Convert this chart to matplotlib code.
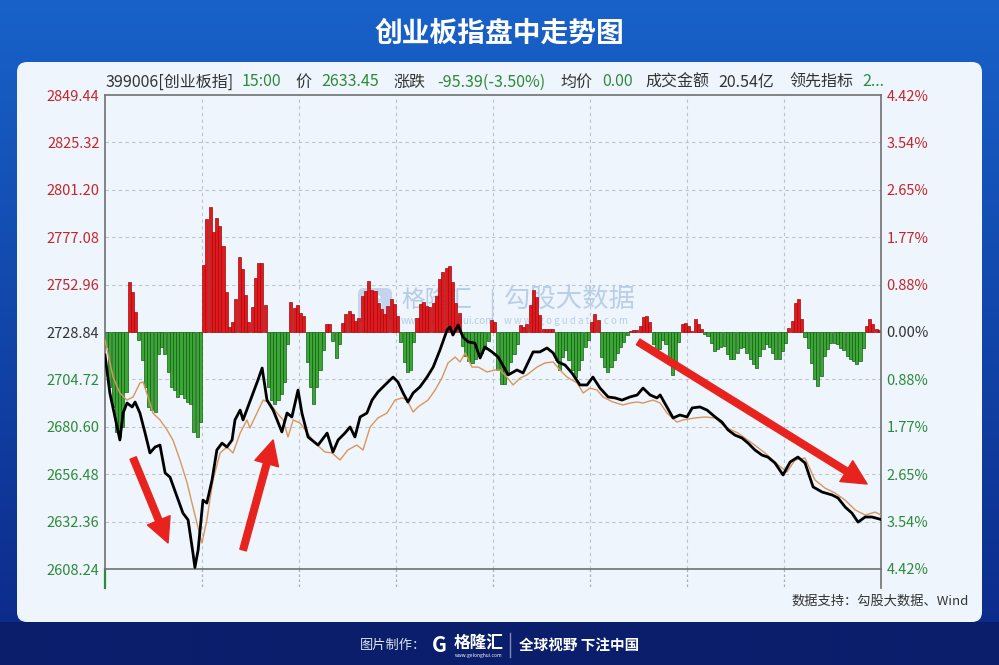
import numpy as np
import matplotlib
matplotlib.use('Agg')
import matplotlib.pyplot as plt
from matplotlib.patches import FancyBboxPatch

plt.rcParams['font.family'] = ['Noto Sans CJK SC', 'DejaVu Sans']

# ---------------- data ----------------
title = "创业板指盘中走势图"
base_price = 2728.84
price_ticks = [2849.44, 2825.32, 2801.20, 2777.08, 2752.96, 2728.84,
               2704.72, 2680.60, 2656.48, 2632.36, 2608.24]
pct_labels = ['4.42%', '3.54%', '2.65%', '1.77%', '0.88%', '0.00%',
              '0.88%', '1.77%', '2.65%', '3.54%', '4.42%']
time_ticks = [0, 30, 60, 90, 120, 150, 180, 210, 240]

price_minutes = [0, 1.5, 3.1, 4.6, 5.6, 6.8, 8.4, 9.3, 10.8, 12.4, 13.9, 15.5, 17.0, 18.6, 20.1,
                 22.3, 24.1, 25.7, 27.2, 27.8, 28.8, 30.3, 31.5, 33.1, 34.6, 36.2, 37.7, 39.3,
                 40.2, 41.8, 42.7, 44.2, 45.8, 47.3, 48.6, 49.5, 50.1, 52.0, 54.7, 56.3, 57.8,
                 59.7, 60.9, 62.8, 65.9, 68.7, 70.5, 72.1, 74.2, 75.8, 77.3, 78.9, 81.0, 82.6,
                 84.4, 86.6, 89.1, 90.6, 92.2, 93.7, 95.3, 97.4, 99.6, 101.5, 103.6, 105.8,
                 106.7, 107.6, 109.2, 110.7, 112.3, 114.4, 116.0, 117.5, 119.7, 121.6, 124.7,
                 127.4, 129.3, 132.4, 134.5, 136.7, 138.6, 140.1, 142.3, 144.4, 146.9, 149.1,
                 150.9, 153.1, 155.6, 157.7, 159.9, 162.4, 164.6, 166.4, 168.6, 170.7, 171.7,
                 173.8, 175.7, 177.8, 180.0, 181.6, 184.0, 186.2, 188.7, 190.8, 192.7, 194.8,
                 197.0, 198.9, 201.0, 203.2, 205.0, 207.2, 209.7, 211.9, 214.3, 216.5, 219.0,
                 221.8, 224.9, 226.7, 228.9, 231.0, 232.9, 235.1, 237.2, 240.0]
price_values = [2717.1, 2697.8, 2685.6, 2673.9, 2687.6, 2692.7, 2690.7, 2693.2, 2687.6, 2677.4,
                2667.3, 2670.3, 2671.3, 2657.1, 2655.0, 2644.9, 2636.7, 2633.2, 2616.4, 2609.0,
                2617.9, 2643.3, 2641.8, 2653.5, 2668.8, 2672.3, 2670.3, 2673.9, 2684.1, 2689.1,
                2684.1, 2690.7, 2697.8, 2704.4, 2710.5, 2700.9, 2694.2, 2689.1, 2678.0, 2687.6,
                2685.6, 2699.3, 2687.6, 2675.4, 2671.3, 2677.4, 2667.8, 2673.9, 2677.4, 2680.5,
                2675.4, 2685.6, 2687.6, 2694.2, 2698.3, 2701.9, 2705.9, 2703.4, 2697.8, 2693.2,
                2697.8, 2700.9, 2705.9, 2711.0, 2719.7, 2729.9, 2731.4, 2727.3, 2732.4, 2726.3,
                2723.8, 2723.2, 2715.6, 2721.2, 2718.7, 2716.1, 2707.0, 2709.5, 2708.0, 2718.7,
                2718.7, 2720.7, 2718.2, 2713.6, 2712.0, 2708.0, 2701.9, 2701.9, 2705.9, 2700.3,
                2695.8, 2695.3, 2694.2, 2695.8, 2696.8, 2700.3, 2696.8, 2695.3, 2696.8, 2690.7,
                2685.1, 2686.6, 2685.6, 2690.2, 2690.7, 2689.1, 2685.6, 2683.0, 2679.0, 2676.4,
                2674.9, 2672.3, 2668.8, 2666.2, 2665.2, 2662.2, 2656.1, 2662.7, 2665.2, 2662.2,
                2650.0, 2647.4, 2645.9, 2644.4, 2639.8, 2636.7, 2632.1, 2634.7, 2634.7, 2633.45]

avg_minutes = [0, 2.5, 4.6, 6.8, 8.7, 10.8, 11.8, 13.3, 14.8, 17.0, 19.2, 21.0, 23.2, 25.4, 27.2,
               28.8, 30.0, 31.5, 33.4, 35.6, 37.7, 39.6, 41.8, 43.9, 44.8, 47.0, 48.9, 51.0, 53.2,
               55.1, 56.6, 58.2, 60.3, 61.9, 65.0, 68.0, 70.2, 72.7, 75.1, 77.9, 79.8, 82.0, 84.4,
               87.2, 89.7, 91.9, 93.4, 95.3, 96.8, 99.9, 102.1, 104.2, 106.1, 108.3, 109.8, 111.4,
               113.5, 115.4, 118.2, 120.6, 122.2, 124.3, 126.2, 128.4, 130.5, 133.6, 136.1, 138.6,
               140.7, 142.9, 146.0, 147.9, 150.0, 152.2, 154.0, 157.1, 160.2, 162.4, 164.6, 166.4,
               169.5, 171.7, 173.8, 176.9, 178.8, 182.5, 185.6, 188.7, 191.8, 195.8, 200.1, 204.1,
               208.2, 210.9, 213.4, 216.5, 219.6, 222.7, 225.8, 228.9, 232.0, 235.1, 238.2, 240.0]
avg_values = [2724.8, 2705.9, 2697.8, 2694.2, 2695.8, 2702.9, 2703.4, 2695.8, 2687.6, 2684.1,
              2679.0, 2673.9, 2663.7, 2652.0, 2639.8, 2629.1, 2621.5, 2633.2, 2653.5, 2667.3,
              2670.3, 2667.3, 2677.4, 2684.1, 2680.0, 2687.6, 2694.2, 2692.7, 2687.6, 2684.1,
              2675.4, 2684.1, 2682.5, 2679.0, 2672.3, 2667.8, 2667.3, 2663.7, 2668.8, 2671.3,
              2668.8, 2680.5, 2685.1, 2687.6, 2694.2, 2695.3, 2694.2, 2688.1, 2690.7, 2694.2,
              2699.3, 2705.4, 2713.1, 2716.1, 2713.6, 2718.2, 2711.0, 2711.0, 2708.5, 2709.5,
              2709.5, 2705.9, 2701.9, 2705.4, 2707.0, 2711.0, 2713.1, 2713.6, 2709.5, 2705.9,
              2702.9, 2697.8, 2700.3, 2699.3, 2695.8, 2693.2, 2691.7, 2692.7, 2693.2, 2692.7,
              2694.2, 2692.7, 2687.6, 2683.0, 2684.1, 2685.1, 2685.6, 2685.1, 2680.5, 2677.4,
              2672.3, 2667.3, 2661.2, 2657.6, 2663.7, 2664.7, 2653.5, 2649.4, 2646.9, 2643.3,
              2638.3, 2635.7, 2637.2, 2635.7]

# leading indicator, one value per minute (own units)
indicator = [-15, -55, -75, -100, -105, -95, -60, 50, 40, 20,
             -8, -28, -55, -75, -78, -80, -22, -15, -22, -40,
             -55, -58, -65, -62, -66, -70, -72, -100, -105, -90,
             67, 113, 125, 100, 114, 106, 86, 40, 5, 10,
             33, 75, 63, 37, 10, 25, 54, 69, 69, 27,
             -55, -68, -72, -68, -62, -50, -12, 30, 24, 27,
             19, 16, -30, -55, -72, -55, -38, -18, 8, 8,
             -9, -26, -12, 9, 18, 21, 18, 11, 14, 36,
             41, 51, 42, 41, 29, 23, 18, 26, 33, 28,
             16, -10, -30, -40, -38, -10, 14, 28, 30, 26,
             25, 29, 36, 53, 60, 64, 66, 50, 29, 19,
             -14, -24, -29, -31, -27, -21, -21, -17, -9, 12,
             10, -38, -52, -52, -40, -30, -22, -12, 7, 5,
             8, 27, 42, 35, 17, 3, 3, 3, 3, -28,
             -38, -25, -18, -28, -38, -45, -38, -28, -15, -8,
             10, 18, 12, -25, -35, -40, -35, -28, -21, -15,
             -10, -3, 1, 2, 2, 6, 15, 16, 10, -12,
             -23, -17, -8, -12, -25, -43, -35, -10, 8, 9,
             6, 1, 13, 8, 3, -2, -4, -11, -19, -17,
             -15, -14, -22, -27, -27, -21, -16, -15, -21, -27,
             -32, -36, -24, -17, -12, -15, -21, -27, -27, -19,
             -11, 4, 11, 29, 33, 13, -5, -16, -31, -47,
             -54, -44, -24, -17, -11, -11, -12, -16, -18, -24,
             -27, -29, -32, -29, -16, 6, 13, 8, 3, 2]

header_texts = ["399006[创业板指]", "15:00", "价", "2633.45", "涨跌", "-95.39(-3.50%)",
                "均价", "0.00", "成交金额", "20.54亿", "领先指标", "2..."]
header_is_value = [False, True, False, True, False, True, False, True, False, False, False, True]
source_text = "数据支持：勾股大数据、Wind"

# ---------------- styles / layout ----------------
W, H = 999, 665
RED_T = '#C4262B'
GREEN_T = '#2E8A3A'
DARK_T = '#333333'
IND_SCALE = 0.509          # price points per indicator unit (display scale)
header_x = [105, 242, 295, 321, 393, 437, 560, 602, 645, 718, 789, 862]


def fx(px):
    return px / W


def fy(py):
    return 1 - py / H


fig = plt.figure(figsize=(W / 100, H / 100), dpi=100)

# background
bg = fig.add_axes([0, 0, 1, 1])
bg.set_xlim(0, W)
bg.set_ylim(H, 0)
bg.axis('off')
top = np.array([0x18, 0x62, 0xC9]) / 255
bot = np.array([0x0C, 0x2C, 0x8C]) / 255
foot = np.array([0x0A, 0x1E, 0x6C]) / 255
rows = np.zeros((H, 1, 3))
for r in range(H):
    if r < 622:
        t = r / 622
        rows[r, 0] = top * (1 - t) + bot * t
    else:
        rows[r, 0] = foot
img = np.repeat(rows, 4, axis=1)
bg.imshow(img, extent=(0, W, H, 0), aspect='auto', zorder=0, interpolation='bilinear')
panel = FancyBboxPatch((17, 62), 965, 560, boxstyle='round,pad=0,rounding_size=10',
                       fc='#EEF5FC', ec='none', zorder=1)
bg.add_patch(panel)

# title
fig.text(0.5, fy(34), title, color='white', fontsize=20, fontweight='bold',
         ha='center', va='center')

# header line
for txt, isval, x in zip(header_texts, header_is_value, header_x):
    fig.text(fx(x), fy(82), txt, color=GREEN_T if isval else DARK_T,
             fontsize=11.5, ha='left', va='center')

# main axes
ax = fig.add_axes([fx(105), fy(569), 776 / W, 474 / H])
ax.set_facecolor('none')
ax.set_xlim(0, 240)
ax.set_ylim(price_ticks[-1], price_ticks[0])
ax.set_xticks([])
ax.set_yticks(price_ticks)
ax.set_yticklabels(['%.2f' % p for p in price_ticks])
for lab, p in zip(ax.get_yticklabels(), price_ticks):
    lab.set_color(RED_T if p > base_price else (GREEN_T if p < base_price else DARK_T))
ax.tick_params(axis='y', length=0, pad=4, labelsize=10.5)
for s in ax.spines.values():
    s.set_color('#707070')
    s.set_linewidth(1.2)

# grid
for p in price_ticks[1:-1]:
    ax.axhline(p, color='#BDC3CA', lw=0.8, ls=(0, (3, 3)), zorder=0)
for t in time_ticks[1:-1]:
    ax.axvline(t, color='#BDC3CA', lw=0.8, ls=(0, (3, 3)), zorder=0)
for t in time_ticks:
    if t == 0:
        c, ls, lw = '#2E8A3A', '-', 1.6
    elif t == 240:
        c, ls, lw = '#707070', '-', 1.2
    else:
        c, ls, lw = '#A8AEB6', (0, (2, 2)), 0.9
    ax.plot([t, t], [0, -0.04], transform=ax.get_xaxis_transform(), clip_on=False,
            color=c, ls=ls, lw=lw)

# indicator bars
ind = np.array(indicator, dtype=float)
xs = np.arange(len(ind)) + 0.5
pos = ind > 0
ax.bar(xs[pos], ind[pos] * IND_SCALE, bottom=base_price, width=0.95,
       color='#E3171C', edgecolor='#9A0E0E', linewidth=0.5, zorder=2)
ax.bar(xs[~pos], ind[~pos] * IND_SCALE, bottom=base_price, width=0.95,
       color='#3BA636', edgecolor='#125F12', linewidth=0.5, zorder=2)

# lines
ax.plot(avg_minutes, avg_values, color='#D9975A', lw=1.0, zorder=3)
ax.plot(price_minutes, price_values, color='black', lw=2.0, zorder=4)

# arrows (annotations)
arrows = [((8.7, 2664.7), (19.5, 2621.5)),
          ((42.7, 2617.9), (52.0, 2673.9)),
          ((164.9, 2723.8), (235.7, 2651.5))]
for tail, tip in arrows:
    ax.annotate('', xy=tip, xytext=tail, zorder=5,
                arrowprops=dict(arrowstyle='simple,head_length=1.1,head_width=1.1,tail_width=0.3',
                                color='#E8231E', shrinkA=0, shrinkB=0, mutation_scale=16))

# right percentage axis
ax_r = ax.twinx()
ax_r.set_ylim((price_ticks[-1] / base_price - 1) * 100, (price_ticks[0] / base_price - 1) * 100)
pct_vals = [(p / base_price - 1) * 100 for p in price_ticks]
ax_r.set_yticks(pct_vals)
ax_r.set_yticklabels(pct_labels)
for lab, p in zip(ax_r.get_yticklabels(), price_ticks):
    lab.set_color(RED_T if p > base_price else (GREEN_T if p < base_price else DARK_T))
ax_r.tick_params(axis='y', length=0, pad=4, labelsize=10.5)
for s in ax_r.spines.values():
    s.set_visible(False)

# watermarks
wm = '#8FAFDB'
bg.add_patch(FancyBboxPatch((358, 288), 34, 34, boxstyle='round,pad=0,rounding_size=6',
                            fc=wm, ec='none', alpha=0.45, zorder=6))
bg.text(375, 306, 'G', color='white', fontsize=16, fontweight='bold', ha='center', va='center',
        alpha=0.8, zorder=7)
bg.text(401, 300, '格隆汇', color=wm, fontsize=17, ha='left', va='center', alpha=0.6, zorder=7)
bg.text(401, 321, 'www.gelonghui.com', color=wm, fontsize=7, ha='left', va='center', alpha=0.6, zorder=7)
bg.plot([492, 492], [289, 322], color=wm, lw=1, alpha=0.5, zorder=7)
bg.text(504, 299, '勾股大数据', color=wm, fontsize=19, ha='left', va='center', alpha=0.55, zorder=7)
bg.text(504, 321, 'w w w . g o g u d a t a . c o m', color=wm, fontsize=7, ha='left', va='center',
        alpha=0.55, zorder=7)
bg.set_zorder(-1)
ax.set_zorder(1)
ax_r.set_zorder(2)

# source
fig.text(fx(969), fy(601), source_text, color='#333333', fontsize=9.5, ha='right', va='center')

# footer
fig.text(fx(360), fy(645), '图片制作：', color='#DDE3F0', fontsize=9.5, ha='left', va='center')
fig.text(fx(432), fy(645), 'G', color='white', fontsize=15, fontweight='bold', ha='left', va='center')
fig.text(fx(454), fy(643), '格隆汇', color='white', fontsize=12, fontweight='bold', ha='left', va='center')
fig.text(fx(455), fy(655), 'www.gelonghui.com', color='white', fontsize=3.5, ha='left', va='center')
fig.lines.append(plt.Line2D([fx(510), fx(510)], [fy(633), fy(657)], color='#7F8BB8', lw=1,
                            transform=fig.transFigure, figure=fig))
fig.text(fx(519), fy(645), '全球视野 下注中国', color='white', fontsize=10.5, fontweight='bold',
         ha='left', va='center')

fig.savefig('out.png', dpi=100)
